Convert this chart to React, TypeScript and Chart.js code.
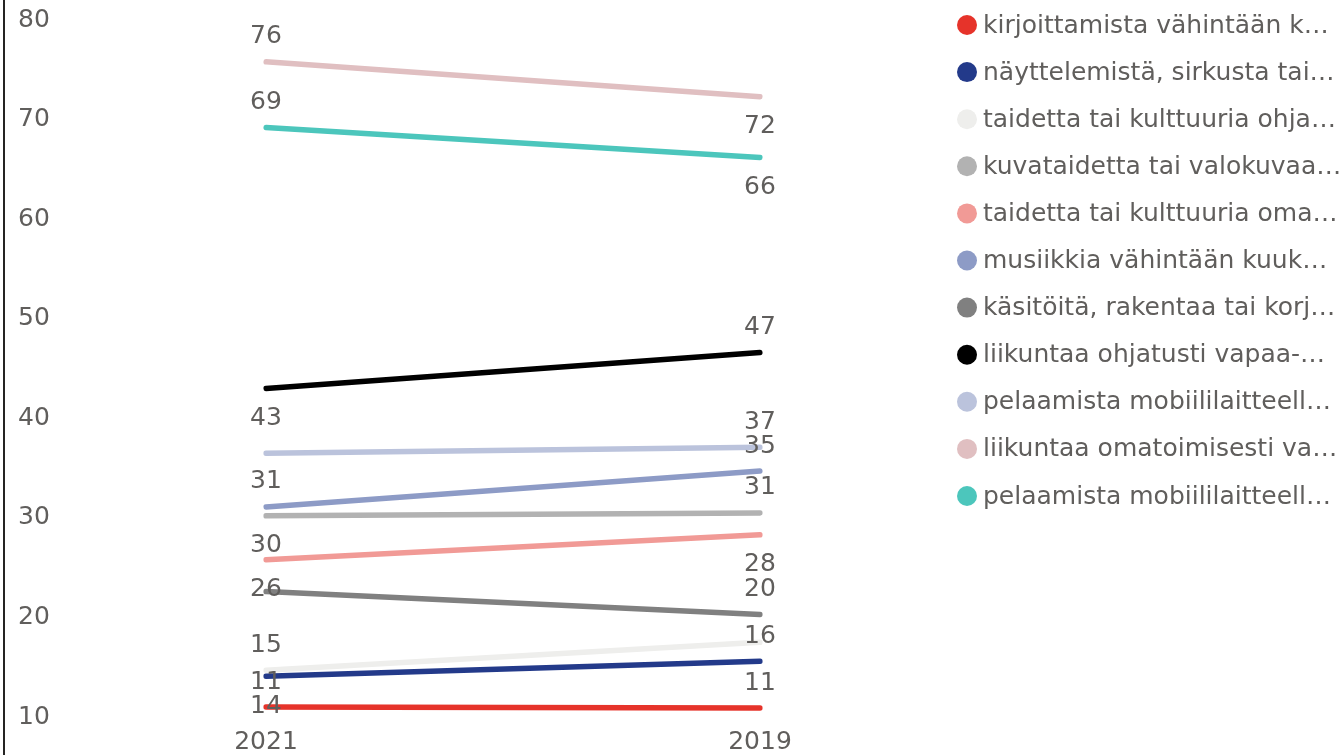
import React, { useEffect, useRef } from "react";
import { Chart, registerables } from "chart.js";

Chart.register(...registerables);

// ---- data ----
const categories = ["2021", "2019"];

const seriesNames = [
  "kirjoittamista vähintään k…",
  "näyttelemistä, sirkusta tai…",
  "taidetta tai kulttuuria ohja…",
  "kuvataidetta tai valokuvaa…",
  "taidetta tai kulttuuria oma…",
  "musiikkia vähintään kuuk…",
  "käsitöitä, rakentaa tai korj…",
  "liikuntaa ohjatusti vapaa-…",
  "pelaamista mobiililaitteell…",
  "liikuntaa omatoimisesti va…",
  "pelaamista mobiililaitteell…",
];

const kirjoittamista = [11.0, 10.9];
const nayttelemista = [14.1, 15.6];
const taideOhjattu = [14.7, 17.5];
const kuvataide = [30.2, 30.5];
const taideOmat = [25.8, 28.3];
const musiikki = [31.1, 34.7];
const kasityot = [22.6, 20.3];
const liikuntaOhjattu = [43.0, 46.6];
const pelaaminen1 = [36.5, 37.1];
const liikuntaOmat = [75.8, 72.3];
const pelaaminen2 = [69.2, 66.2];

const seriesValues = [
  kirjoittamista,
  nayttelemista,
  taideOhjattu,
  kuvataide,
  taideOmat,
  musiikki,
  kasityot,
  liikuntaOhjattu,
  pelaaminen1,
  liikuntaOmat,
  pelaaminen2,
];

const yMin = 10;
const yMax = 80;
const yStep = 10;

// ---- styles ----
const seriesColors = [
  "#E6332A",
  "#233A8A",
  "#EEEEEC",
  "#B2B2B2",
  "#F19A96",
  "#8D9BC6",
  "#808080",
  "#000000",
  "#BBC3DC",
  "#E0BFC1",
  "#4CC6BC",
];

// label placement per series for [2021, 2019]: "a" above, "b" below, "n" hidden
const labelPlacement = [
  ["a", "a"],
  ["b", "a"],
  ["a", "n"],
  ["b", "a"],
  ["b", "b"],
  ["a", "a"],
  ["n", "a"],
  ["b", "a"],
  ["n", "a"],
  ["a", "b"],
  ["a", "b"],
];

const FONT = "'DejaVu Sans', Verdana, sans-serif";
const FONT_SIZE = 25;
const TEXT_COLOR = "#605E5C";

const labelsPlugin = {
  id: "valueLabels",
  afterDatasetsDraw(chart: any) {
    const ctx = chart.ctx;
    ctx.save();
    ctx.font = `${FONT_SIZE}px ${FONT}`;
    ctx.fillStyle = TEXT_COLOR;
    ctx.textAlign = "center";
    ctx.textBaseline = "middle";
    chart.data.datasets.forEach((ds: any, i: number) => {
      const meta = chart.getDatasetMeta(i);
      meta.data.forEach((pt: any, j: number) => {
        const p = labelPlacement[i][j];
        if (p === "n") return;
        const off = p === "a" ? -25 : 30;
        ctx.fillText(String(Math.round(ds.data[j])), pt.x, pt.y + off);
      });
    });
    ctx.restore();
  },
  afterDraw(chart: any) {
    const ctx = chart.ctx;
    ctx.save();
    // left frame line
    ctx.strokeStyle = "#252423";
    ctx.lineWidth = 2;
    ctx.beginPath();
    ctx.moveTo(4, 0);
    ctx.lineTo(4, chart.height);
    ctx.stroke();
    // legend
    ctx.font = `${FONT_SIZE}px ${FONT}`;
    ctx.textAlign = "left";
    ctx.textBaseline = "middle";
    chart.data.datasets.forEach((ds: any, i: number) => {
      const y = 25 + i * 47.1;
      ctx.fillStyle = ds.borderColor;
      ctx.beginPath();
      ctx.arc(967, y, 10, 0, Math.PI * 2);
      ctx.fill();
      ctx.fillStyle = TEXT_COLOR;
      ctx.fillText(ds.label, 983, y + 1);
    });
    ctx.restore();
  },
};

export default function App() {
  const ref = useRef<HTMLCanvasElement | null>(null);
  useEffect(() => {
    if (!ref.current) return;
    const chart = new Chart(ref.current, {
      type: "line",
      data: {
        labels: categories,
        datasets: seriesValues.map((vals, i) => ({
          label: seriesNames[i],
          data: vals,
          borderColor: seriesColors[i],
          backgroundColor: seriesColors[i],
          borderWidth: 5.5,
          borderCapStyle: "round",
          pointRadius: 0,
          pointHoverRadius: 0,
          tension: 0,
        })),
      },
      options: {
        responsive: false,
        animation: false,
        events: [],
        layout: {
          autoPadding: false,
          padding: { left: 18, right: 580, top: 20, bottom: 0 },
        },
        plugins: {
          legend: { display: false },
          tooltip: { enabled: false },
          title: { display: false },
        },
        scales: {
          x: {
            type: "category",
            offset: false,
            grid: { display: false, drawTicks: false },
            border: { display: false },
            ticks: {
              color: TEXT_COLOR,
              font: { family: FONT, size: FONT_SIZE },
              padding: 10,
              maxRotation: 0,
              autoSkip: false,
            },
            afterFit(scale: any) {
              scale.height = 38;
            },
          },
          y: {
            min: yMin,
            max: yMax,
            grid: { display: false, drawTicks: false },
            border: { display: false },
            ticks: {
              stepSize: yStep,
              color: TEXT_COLOR,
              font: { family: FONT, size: FONT_SIZE },
              crossAlign: "far",
            },
            afterFit(scale: any) {
              scale.width = 248;
            },
          },
        },
      },
      plugins: [labelsPlugin],
    } as any);
    return () => chart.destroy();
  }, []);
  return (
    <div style={{ position: "absolute", left: 0, top: 0, width: 1340, height: 755, background: "#fff" }}>
      <canvas ref={ref} width={1340} height={755} style={{ display: "block" }} />
    </div>
  );
}
